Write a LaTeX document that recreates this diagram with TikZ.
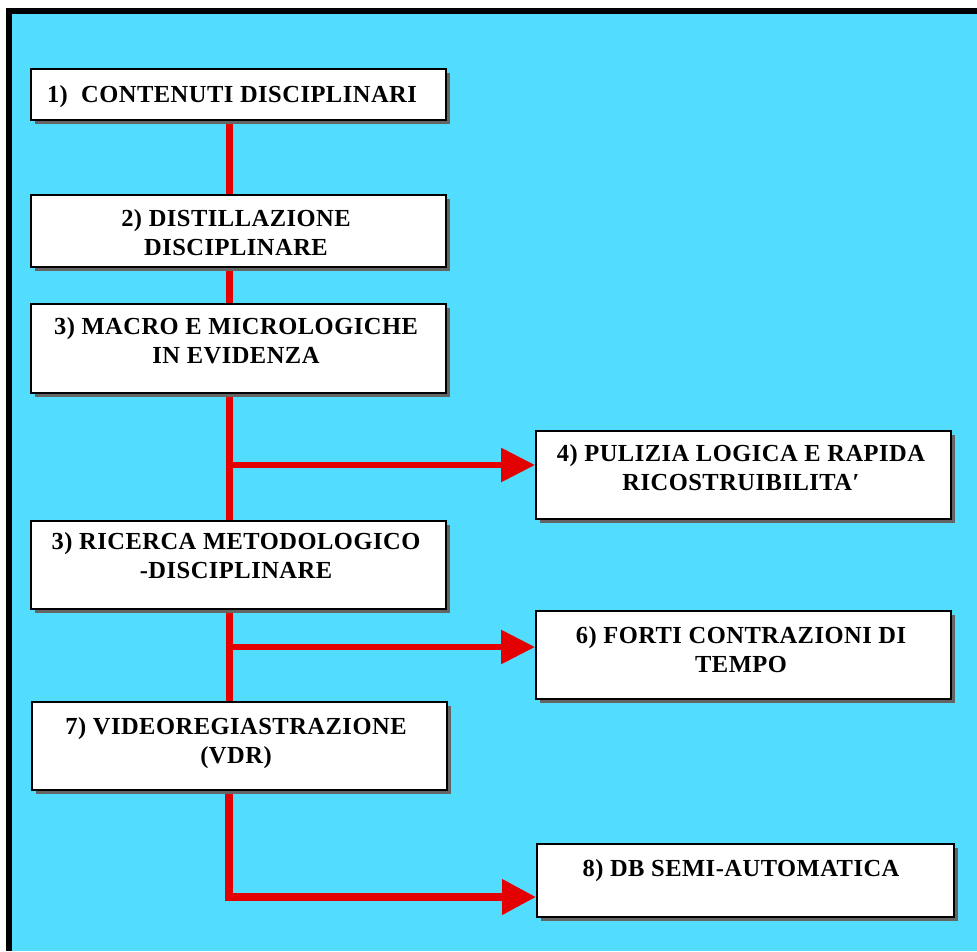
\documentclass[tikz,border=0pt]{standalone}
\usepackage{fontspec}
\setmainfont{Liberation Serif}[LetterSpace=2]
\usetikzlibrary{arrows.meta,shadows}
\definecolor{bgcyan}{RGB}{82,221,255}
\definecolor{linered}{RGB}{228,0,0}
\definecolor{shadowgray}{RGB}{100,100,100}
\pgfdeclarelayer{bg}
\pgfdeclarelayer{lines}
\pgfsetlayers{bg,lines,main}
\begin{document}
\begin{tikzpicture}[x=1pt,y=-1pt,
  boxstyle/.style={draw=black, line width=1.5pt, fill=white, inner sep=0pt,
    anchor=north west, minimum width=415pt,
    general shadow={fill=shadowgray, shadow xshift=4.5pt, shadow yshift=-4.5pt}},
  txt/.style={anchor=north, inner sep=0pt, align=center,
    font=\fontsize{24.5}{29.5}\selectfont\bfseries},
  mainline/.style={draw=linered, line width=7pt},
  branch/.style={draw=linered, line width=6pt,
    -{Triangle[length=34pt,width=33pt]}},
  lastbranch/.style={draw=linered, line width=7.5pt, line join=miter,
    -{Triangle[length=34pt,width=34pt]}}
]
\useasboundingbox (0,0) rectangle (977,951);
\begin{pgfonlayer}{bg}
  \fill[white] (0,0) rectangle (977,951);
  \fill[black] (6,8) rectangle (977,951);
  \fill[bgcyan] (12,14) rectangle (977,951);
\end{pgfonlayer}

% boxes
\node[boxstyle, minimum height=51pt] (b1) at (30,68) {};
\node[boxstyle, minimum height=72pt] (b2) at (30,194) {};
\node[boxstyle, minimum height=89pt] (b3) at (30,303) {};
\node[boxstyle, minimum height=88pt] (b4) at (535,430) {};
\node[boxstyle, minimum height=88pt] (b5) at (30,520) {};
\node[boxstyle, minimum height=88pt] (b6) at (535,610) {};
\node[boxstyle, minimum height=88pt] (b7) at (31,701) {};
\node[boxstyle, minimum height=73pt, minimum width=417pt] (b8) at (536,843) {};

% texts
\node[txt] (t1) at (232,85) {1)~~CONTENUTI DISCIPLINARI};
\node[txt] (t2) at (236,209) {2) DISTILLAZIONE\\DISCIPLINARE};
\node[txt] (t3) at (236,317) {3) MACRO E MICROLOGICHE\\IN EVIDENZA};
\node[txt] (t4) at (741,444) {4) PULIZIA LOGICA E RAPIDA\\RICOSTRUIBILITA′};
\node[txt] (t5) at (236,532) {3) RICERCA METODOLOGICO\\-DISCIPLINARE};
\node[txt] (t6) at (741,626) {6) FORTI CONTRAZIONI DI\\TEMPO};
\node[txt] (t7) at (236,717) {7) VIDEOREGIASTRAZIONE\\(VDR)};
\node[txt] (t8) at (741,859) {8) DB SEMI-AUTOMATICA};

% connectors
\coordinate (xl) at (229,0);
\coordinate (j4) at (229,465);
\coordinate (j6) at (229,647);
\coordinate (cb) at (229,897);
\begin{pgfonlayer}{lines}
  \draw[mainline] (b1.south -| xl) -- (b2.north -| xl);
  \draw[mainline] (b2.south -| xl) -- (b3.north -| xl);
  \draw[mainline] (b3.south -| xl) -- (b5.north -| xl);
  \draw[mainline] (b5.south -| xl) -- (b7.north -| xl);
  \draw[branch] (j4) -- (j4 -| b4.west);
  \draw[branch] (j6) -- (j6 -| b6.west);
  \draw[lastbranch] (b7.south -| xl) -- (cb) -- (cb -| b8.west);
\end{pgfonlayer}
\end{tikzpicture}
\end{document}
